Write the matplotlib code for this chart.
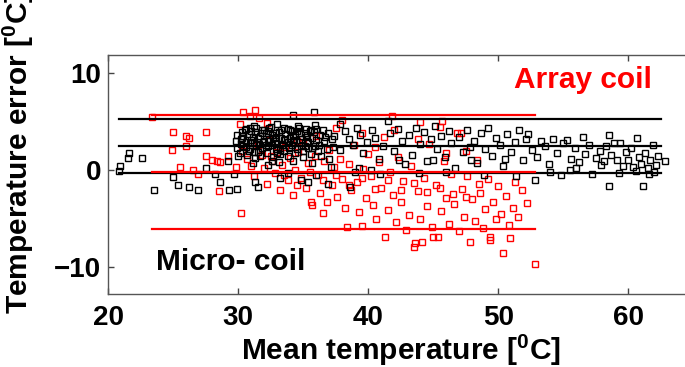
import matplotlib
matplotlib.use("Agg")
import matplotlib.pyplot as plt

plt.rcParams['font.family'] = ['Liberation Sans', 'DejaVu Sans']
plt.rcParams['font.weight'] = 'bold'
plt.rcParams['mathtext.fontset'] = 'custom'
plt.rcParams['mathtext.rm'] = 'Liberation Sans:bold'
plt.rcParams['mathtext.bf'] = 'Liberation Sans:bold'

# Micro-coil: mean temperature vs. temperature error
micro_x = [20.9, 20.8, 21.5, 21.6, 22.6, 23.5, 25.0, 25.4, 26.2, 26.9, 27.5, 28.2, 28.6, 29.2, 29.3, 29.9, 29.7, 30.0,
           30.6, 31.2, 31.8, 32.5, 33.0, 33.5, 34.0, 34.6, 35.2, 35.9, 36.5,
           29.9, 30.3, 30.8, 31.3, 31.7, 32.1, 32.6, 33.1, 33.6, 34.2, 34.7, 35.3, 35.8, 36.3, 36.9, 37.4,
           29.8, 30.2, 30.6, 31.0, 31.5, 31.9, 32.4, 32.8, 33.3, 33.8, 34.3, 34.9, 35.4, 36.0, 36.6, 37.2,
           29.9, 30.4, 30.9, 31.4, 31.8, 32.3, 32.9, 33.4, 33.9, 34.5, 35.1, 35.7, 36.2, 36.8, 37.3,
           30.1, 30.7, 31.2, 31.7, 32.2, 32.7, 33.2, 33.8, 34.4, 35.0, 35.6, 36.4, 37.0,
           30.4, 31.0, 31.6, 32.0, 32.3, 32.9, 33.5, 34.1, 34.7, 35.5, 36.1, 30.9, 33.0, 34.0, 35.2, 36.7, 31.3, 32.6, 34.2,
           30.2, 30.5, 30.8, 31.1, 31.4, 31.7, 32.0, 32.3, 32.6, 32.9, 33.2, 33.5, 33.8, 34.1, 34.4, 34.7, 35.0, 35.3, 35.6, 35.9,
           30.3, 30.6, 30.9, 31.2, 31.5, 31.8, 32.1, 32.4, 32.7, 33.0, 33.3, 33.6, 33.9, 34.2, 34.5, 34.8, 35.1, 35.4, 35.7, 36.0,
           34.2, 35.8, 31.1, 32.3, 33.1, 33.2, 31.5, 31.3, 34.8, 35.4, 36.9, 35.7, 37.8, 37.8, 37.1, 38.6, 39.0, 40.2, 33.8, 36.0,
           38.2, 38.5, 38.8, 39.1, 39.4, 39.6, 39.9, 40.3, 40.5, 40.8, 41.1, 41.5, 41.7, 42.0, 42.3, 42.6, 42.8, 43.1, 43.4, 43.7,
           44.0, 44.3, 44.5, 44.8, 45.1, 45.3, 45.6, 45.9, 46.2, 46.4, 46.7, 47.0, 47.3, 47.6, 47.8, 48.1, 48.4, 48.7, 49.0, 49.2,
           49.5, 49.8, 50.1, 50.4, 50.7, 51.0, 51.3, 51.6, 51.9, 52.1, 39.3, 40.9, 43.9, 46.0, 48.9, 51.4, 42.4, 45.0, 47.9, 50.5,
           52.3, 52.8, 52.6, 53.0, 53.3, 53.6, 53.9, 54.2, 54.5, 54.8, 55.0, 55.3, 55.6, 55.9, 56.2, 56.5, 56.7, 57.0, 57.2, 57.5,
           57.8, 58.1, 58.3, 58.5, 58.5, 58.7, 58.9, 59.1, 59.4, 59.6, 59.8, 60.0, 60.2, 60.4, 60.7, 60.8, 61.0, 61.1, 61.3, 61.5,
           61.7, 61.9, 62.1, 62.3, 62.8, 56.0, 57.9, 59.3, 60.6, 61.6, 54.0, 55.5, 62.0]
micro_y = [0.45, -0.1, 1.3, 1.8, 1.3, -2.0, -0.7, -1.5, -1.7, -2.1, 0.2, -0.4, -1.2, 0.9, -2.0, -1.9, -0.4, 1.5,
           4.3, 4.6, 4.2, 4.5, 4.8, 4.4, 4.1, 4.6, 4.3, 4.7, 4.2,
           3.6, 3.9, 3.7, 3.9, 3.5, 3.8, 3.6, 3.9, 3.7, 3.5, 3.8, 3.6, 3.9, 3.6, 3.8, 3.5,
           3.0, 3.2, 2.9, 3.1, 3.3, 2.9, 3.2, 3.0, 3.3, 2.9, 3.1, 3.2, 2.9, 3.1, 3.0, 3.2,
           2.3, 2.5, 2.2, 2.6, 2.3, 2.5, 2.2, 2.6, 2.4, 2.2, 2.5, 2.3, 2.6, 2.2, 2.4,
           1.8, 1.6, 1.9, 1.5, 1.8, 1.4, 1.7, 1.5, 1.8, 1.4, 1.7, 1.5, 1.2,
           3.5, 4.0, 2.7, 4.1, 3.0, 3.4, 2.0, 4.0, 2.9, 4.0, 2.0, 2.8, 2.7, 3.3, 3.4, 3.4, 1.3, 0.9, 0.9,
           2.7, 4.1, 2.0, 3.4, 4.4, 2.1, 3.0, 4.0, 2.6, 3.8, 2.1, 3.1, 4.3, 2.6, 3.6, 4.4, 2.0, 3.0, 4.1, 2.5,
           3.3, 2.4, 4.4, 2.9, 1.9, 3.8, 2.6, 4.4, 3.3, 1.8, 4.2, 3.2, 2.3, 2.9, 4.0, 2.5, 3.8, 2.3, 3.3, 4.3,
           5.7, 6.0, 0.7, 0.5, 0.8, -0.8, -1.7, -1.2, -1.0, -1.2, -1.4, 0.7, 4.8, 2.1, 0.3, -1.7, -0.2, 0.0, -0.3, -0.5,
           4.0, 3.2, 2.6, 4.4, 3.6, 1.8, 2.9, 4.1, 3.3, 1.2, 2.5, 5.1, 3.8, 2.0, 4.3, 3.0, 0.6, 3.6, 1.6, 4.4,
           2.7, 3.9, 0.9, 3.2, 4.6, 2.2, 3.5, 1.4, 4.0, 2.8, 0.2, 3.4, 1.9, 4.2, 2.4, 3.0, 0.7, 3.8, 2.2, 4.4,
           1.5, 3.3, 2.6, 0.4, 3.7, 1.9, 2.9, 4.1, 1.1, 3.2, 0.2, -0.4, -0.3, -0.2, -0.5, -0.6, 1.0, 1.0, 1.1, 1.2,
           3.7, -1.0, 2.1, 1.4, 3.0, 2.5, 0.6, 3.2, 1.8, -0.5, 2.8, 3.1, 1.2, 2.3, 0.8, 3.4, 1.7, 2.6, -0.4, 1.3,
           2.0, 0.9, 2.5, 3.6, -1.6, 1.6, 2.8, 1.1, 2.8, 0.4, 1.9, 1.0, 2.3, 0.3, 3.3, 1.4, 0.6, -1.6, 1.8, 0.2,
           1.0, 2.6, 0.5, 1.5, 0.9, 0.2, 0.5, -0.3, -0.1, -0.4, -0.2, 0.0, -0.2]

# Array coil: mean temperature vs. temperature error
array_x = [23.4, 25.0, 26.0, 26.2, 26.0, 27.5, 24.9, 25.5, 26.5, 26.9, 27.5, 28.0, 28.4, 28.6, 29.2, 28.5, 29.8, 30.2,
           30.4, 31.3, 30.9, 31.6, 32.2, 30.1,
           30.3, 30.7, 31.0, 31.2, 31.5, 31.8, 32.0, 32.2, 32.4, 32.6, 32.8, 33.0, 33.2, 33.4, 33.6, 33.8, 34.0, 34.2, 34.4, 34.6,
           34.8, 35.0, 35.2, 35.4, 35.6, 35.7, 35.9, 36.1, 36.3, 36.5, 36.6, 36.8, 37.0, 37.2, 37.4, 37.6, 37.8, 38.0, 38.2, 38.4,
           38.5, 38.7, 38.9, 39.1, 39.3, 39.5, 39.6, 39.8, 40.0, 40.2, 40.4, 40.6, 40.8, 41.0, 41.2, 41.3, 41.5, 41.7, 41.9, 42.1,
           42.3, 42.5, 42.7, 42.9, 43.1, 43.3, 43.5, 43.6, 43.8, 44.0, 44.1, 44.3, 44.5, 44.7, 44.9, 45.0, 45.2, 45.4, 45.6, 45.8,
           46.0, 46.2, 46.4, 46.6, 46.8, 47.0, 47.2, 47.4, 47.6, 47.8, 48.0, 48.2, 48.4, 48.6, 48.8, 49.0, 49.2, 49.4, 49.4, 49.6,
           49.8, 50.0, 50.2, 50.4, 50.6, 50.8, 50.9, 51.1, 51.3, 51.5, 51.8, 52.2, 52.8,
           33.5, 34.5, 35.5, 36.5, 37.5, 38.5, 39.5, 40.5, 41.5, 42.5, 43.5, 44.5, 45.5, 46.5, 47.5, 48.5,
           32.5, 34.5, 36.0, 37.5, 39.5, 40.5, 42.0, 43.8, 45.5, 46.0, 47.5, 38.0, 41.8, 44.0, 45.7, 47.1]
array_y = [5.5, 3.9, 3.5, 3.3, 2.5, 3.9, 2.1, 0.3, 0.0, -0.4, 1.5, 1.0, 0.9, 0.8, 1.5, -2.2, 0.3, -4.4,
           6.0, 6.2, 5.6, 5.4, 4.9, 4.8,
           2.0, 1.2, 0.4, -0.6, 2.6, 1.6, 0.2, -1.4, 3.1, 0.9, -0.3, 1.9, -2.0, 0.5, 2.4, -1.0, 1.3, -2.6, 0.0, 1.9,
           -0.8, 2.8, -1.8, 0.7, -3.3, -3.6, 1.5, -0.5, -2.4, -4.4, 0.9, -3.3, 2.1, -1.5, 0.3, -2.8, 1.2, -0.9, -3.9, -5.9,
           0.6, -2.0, 2.6, -1.2, -4.3, -5.8, 0.1, -2.9, 1.7, -0.6, -3.6, -5.0, 0.8, -1.8, 3.4, -6.9, -4.1, -0.2, -2.6, -5.4,
           1.4, -3.3, -1.1, -6.2, -4.6, 0.4, -7.9, -7.5, -2.2, -5.1, -7.4, -0.8, -3.7, 2.7, -5.9, -6.9, -1.5, -6.9, -4.2, 0.9,
           -2.9, -5.6, -0.4, -3.5, 3.8, -6.3, -1.9, -4.8, -0.6, -7.4, -3.0, -5.3, 1.1, -2.4, -6.0, -4.0, -0.9, -7.2, -6.9, -3.3,
           -5.0, -1.6, -4.5, -8.6, -2.7, -5.7, -7.0, -3.9, -1.2, -4.8, -2.1, -3.4, -9.7,
           -0.5, -1.5, -0.2, -1.0, -0.5, -1.5, -0.8, -1.9, -1.0, -2.0, -1.3, -2.3, -1.8, -2.5, -2.8, -1.4,
           1.5, 3.0, 3.5, 4.4, 3.8, 2.4, 4.1, 3.2, 4.5, 1.8, 2.0, 5.2, 5.6, 5.0, 5.1, 3.8]

# Bland-Altman lines: (lower limit, mean, upper limit) and x extent
micro_lines = [-0.3, 2.47, 5.26]
micro_span = [20.8, 62.5]
array_lines = [-6.1, -0.2, 5.67]
array_span = [23.4, 52.8]

fig = plt.figure(figsize=(6.85, 3.67), dpi=100)
ax = fig.add_axes([0.158, 0.199, 0.854, 0.651])

ax.plot(array_x, array_y, 's', ms=4.3, mfc='none', mec='red', mew=1.0)
ax.plot(micro_x, micro_y, 's', ms=4.3, mfc='none', mec='black', mew=1.0)

for y in micro_lines:
    ax.plot(micro_span, [y, y], color='black', lw=1.6)
for y in array_lines:
    ax.plot(array_span, [y, y], color='red', lw=1.6)

ax.text(56.5, 9.3, 'Array coil', color='red', fontsize=21.5, fontweight='bold', ha='center', va='center')
ax.text(29.4, -9.5, 'Micro- coil', color='black', fontsize=21.5, fontweight='bold', ha='center', va='center')

ax.set_xlim(20, 65)
ax.set_ylim(-12.8, 11.9)
ax.set_xticks([20, 30, 40, 50, 60])
ax.set_yticks([-10, 0, 10])
ax.tick_params(direction='in', length=4, width=1, labelsize=20, top=True, right=True,
               colors='#444444', labelcolor='black')
ax.tick_params(axis='x', pad=8)
ax.tick_params(axis='y', pad=5)
for lab in ax.get_xticklabels() + ax.get_yticklabels():
    lab.set_fontweight('bold')
for s in ax.spines.values():
    s.set_color('#555555')
    s.set_linewidth(1)

ax.set_xlabel(r'Mean temperature [$^{0}$C]', fontsize=21.5, fontweight='bold', labelpad=0.5)
ax.set_ylabel(r'Temperature error [$^{0}$C]', fontsize=21.5, fontweight='bold')
ax.yaxis.set_label_coords(-0.124, 0.59)

fig.savefig('out.png', dpi=100)
